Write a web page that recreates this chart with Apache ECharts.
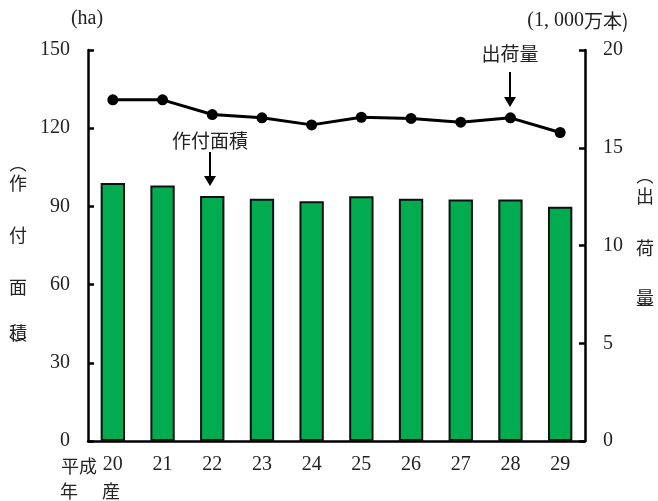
<!DOCTYPE html>
<html><head><meta charset="utf-8">
<script src="https://cdn.jsdelivr.net/npm/echarts@6/dist/echarts.min.js"></script>
<style>html,body{margin:0;padding:0;background:#fff}#c{width:658px;height:501px}</style>
</head><body><div id="c"></div>
<script>
const categories = ['20','21','22','23','24','25','26','27','28','29'];
const areaHa = [99.0, 98.0, 94.0, 92.9, 92.0, 93.9, 92.9, 92.6, 92.6, 89.9];
const shipment = [17.45, 17.45, 16.7, 16.53, 16.17, 16.56, 16.5, 16.31, 16.53, 15.78];
const leftTicks = [0, 30, 60, 90, 120, 150];
const rightTicks = [0, 5, 10, 15, 20];

const numFont = '"Liberation Serif","DejaVu Serif",serif';
const jpFont = '"Noto Sans CJK JP",sans-serif';
const txt = '#222';
const chart = echarts.init(document.getElementById('c'));

function t(x, y, s, size, align) {
  return {type:'text', x:x, y:y, style:{text:s, fontFamily:jpFont, fontSize:size||18, fill:txt, align:align||'center', verticalAlign:'middle'}};
}
function tn(x, y, s, size, align) {
  return {type:'text', x:x, y:y, style:{text:s, fontFamily:numFont, fontSize:size||20, fill:txt, align:align||'center', verticalAlign:'middle'}};
}
function arrow(x, y1, y2) {
  return [
    {type:'line', shape:{x1:x, y1:y1, x2:x, y2:y2-6}, style:{stroke:'#000', lineWidth:2}},
    {type:'polygon', shape:{points:[[x-6,y2-10],[x+6,y2-10],[x,y2]]}, style:{fill:'#000'}}
  ];
}

chart.setOption({
  animation:false,
  grid:{left:88, right:73, top:50, bottom:60},
  xAxis:{type:'category', data:categories, boundaryGap:true,
    axisLine:{lineStyle:{color:'#000', width:2.5}}, axisTick:{show:false},
    axisLabel:{color:txt, fontFamily:numFont, fontSize:20, margin:14}},
  yAxis:[
    {type:'value', min:0, max:150, interval:30, position:'left',
      axisLine:{show:true, lineStyle:{color:'#000', width:2.5}},
      axisTick:{show:true, inside:true, length:6, lineStyle:{color:'#000', width:2.5}},
      splitLine:{show:false},
      axisLabel:{color:txt, fontFamily:numFont, fontSize:20, margin:18,
        formatter:v => leftTicks.includes(v) ? String(v) : ''}},
    {type:'value', min:0, max:20, interval:5, position:'right',
      axisLine:{show:true, lineStyle:{color:'#000', width:2.5}},
      axisTick:{show:true, inside:true, length:6, lineStyle:{color:'#000', width:2.5}},
      splitLine:{show:false},
      axisLabel:{color:txt, fontFamily:numFont, fontSize:20, margin:18,
        formatter:v => rightTicks.includes(v) ? String(v) : ''}}
  ],
  series:[
    {type:'bar', data:areaHa, yAxisIndex:0, barWidth:'49%',
      itemStyle:{color:'#00AC4F', borderColor:'#111', borderWidth:2}, z:2},
    {type:'line', data:shipment, yAxisIndex:1, symbol:'circle', symbolSize:11,
      lineStyle:{color:'#000', width:3}, itemStyle:{color:'#000'}, z:3}
  ],
  graphic:[
    tn(87, 19, '(ha)', 20),
    tn(584, 21, '(1, 000', 20, 'right'),
    t(584, 21, '万本)', 19, 'left'),
    t(18, 164, '︵', 17), t(18, 183, '作', 18), t(18, 235, '付', 18),
    t(18, 287, '面', 18), t(18, 333, '積', 18), t(18, 345, '︶', 17),
    t(645, 176, '︵', 17), t(645, 196, '出', 18), t(645, 248, '荷', 18),
    t(645, 298, '量', 18), t(645, 310, '︶', 17),
    t(210, 141, '作付面積', 19),
    ...arrow(210, 152, 186),
    t(510, 54, '出荷量', 19),
    ...arrow(510, 72, 107),
    t(79, 466, '平成', 18),
    t(69, 491, '年', 18),
    t(111, 491, '産', 18)
  ]
});
</script></body></html>
